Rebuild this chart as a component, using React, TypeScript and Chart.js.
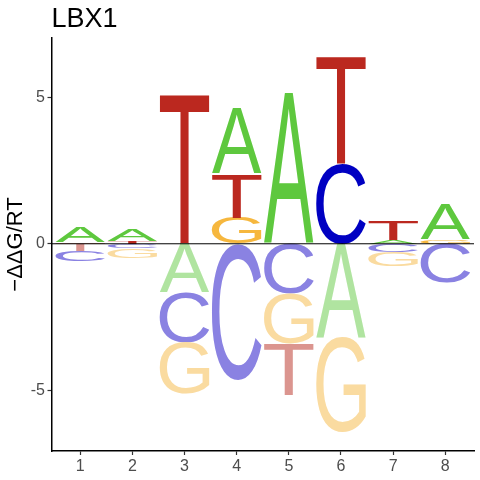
import { useEffect, useRef } from "react";
import Chart from "chart.js/auto";

// motif positions and the four bases
const positions = [1, 2, 3, 4, 5, 6, 7, 8];
const bases = ["A", "C", "G", "T"];

const aValues = [0.53, 0.4, -1.66, 2.24, 5.16, -3.2, 0.12, 1.17];
const cValues = [-0.34, -0.15, -1.7, -4.65, -1.7, 2.74, -0.27, -1.33];
const gValues = [0.05, -0.33, -1.75, 0.89, -1.72, -3.25, -0.51, 0.15];
const tValues = [-0.25, 0.08, 5.12, 1.51, -1.74, 3.66, 0.65, 0];

const yTicks = [-5, 0, 5];
const chartTitle = "LBX1";
const yTitle = "\u2212\u0394\u0394G/RT";

const series = [aValues, cValues, gValues, tValues];

const upColors: Record<string, string> = {
  A: "#5ec83e",
  C: "#0000c2",
  G: "#f6b73e",
  T: "#bb281f",
};
const downColors: Record<string, string> = {
  A: "#b0e4a0",
  C: "#8a82e2",
  G: "#fadba0",
  T: "#db958f",
};

const FONT = '"Liberation Sans", Arial, sans-serif';
const LETTER_WIDTH = 0.95;

function drawLetter(
  ctx: CanvasRenderingContext2D,
  ch: string,
  left: number,
  top: number,
  w: number,
  h: number,
  color: string
) {
  if (h < 0.2 || w <= 0) return;
  ctx.save();
  ctx.font = `400 200px ${FONT}`;
  ctx.textAlign = "left";
  ctx.textBaseline = "alphabetic";
  const m = ctx.measureText(ch);
  const gw = m.actualBoundingBoxLeft + m.actualBoundingBoxRight;
  const gh = m.actualBoundingBoxAscent + m.actualBoundingBoxDescent;
  ctx.translate(left, top);
  ctx.scale(w / gw, h / gh);
  ctx.fillStyle = color;
  ctx.fillText(ch, m.actualBoundingBoxLeft, m.actualBoundingBoxAscent);
  ctx.restore();
}

const logoPlugin = {
  id: "logoLetters",
  afterDatasetsDraw(chart: any) {
    const { ctx, chartArea, scales } = chart;
    const x = scales.x;
    const y = scales.y;
    ctx.save();
    ctx.beginPath();
    ctx.rect(chartArea.left, chartArea.top, chartArea.right - chartArea.left, chartArea.bottom - chartArea.top);
    ctx.clip();

    positions.forEach((pos, i) => {
      const vals = bases.map((b, k) => ({ b, v: series[k][i] }));
      const up = vals.filter((d) => d.v > 0).sort((p, q) => p.v - q.v);
      const down = vals.filter((d) => d.v < 0).sort((p, q) => q.v - p.v);
      const x0 = x.getPixelForValue(pos - LETTER_WIDTH / 2);
      const x1 = x.getPixelForValue(pos + LETTER_WIDTH / 2);

      let acc = 0;
      up.forEach((d) => {
        const bottom = y.getPixelForValue(acc);
        const top = y.getPixelForValue(acc + d.v);
        drawLetter(ctx, d.b, x0, top, x1 - x0, bottom - top, upColors[d.b]);
        acc += d.v;
      });
      acc = 0;
      down.forEach((d) => {
        const top = y.getPixelForValue(acc);
        const bottom = y.getPixelForValue(acc + d.v);
        drawLetter(ctx, d.b, x0, top, x1 - x0, bottom - top, downColors[d.b]);
        acc += d.v;
      });
    });

    // baseline at zero
    const y0 = y.getPixelForValue(0);
    ctx.strokeStyle = "#000";
    ctx.lineWidth = 1;
    ctx.beginPath();
    ctx.moveTo(chartArea.left, y0);
    ctx.lineTo(chartArea.right, y0);
    ctx.stroke();
    ctx.restore();
  },
  afterDraw(chart: any) {
    const { ctx, chartArea } = chart;
    ctx.save();
    ctx.font = `27px ${FONT}`;
    ctx.fillStyle = "#000";
    ctx.textAlign = "left";
    ctx.textBaseline = "alphabetic";
    ctx.fillText(chartTitle, chartArea.left, 26.7);
    ctx.restore();
  },
};

export default function App() {
  const canvasRef = useRef<HTMLCanvasElement>(null);

  useEffect(() => {
    document.body.style.margin = "0";
    if (!canvasRef.current) return;

    const chart = new Chart(canvasRef.current, {
      type: "scatter",
      data: {
        datasets: [
          {
            data: positions.map((p) => ({ x: p, y: 0 })),
            pointRadius: 0,
            showLine: false,
          },
        ],
      },
      options: {
        responsive: false,
        animation: false,
        events: [],
        layout: { padding: { top: 38, right: 6, bottom: 0, left: 0 } },
        plugins: {
          legend: { display: false },
          tooltip: { enabled: false },
          title: { display: false },
        },
        scales: {
          x: {
            type: "linear",
            min: 0.45,
            max: 8.55,
            afterBuildTicks: (s: any) => {
              s.ticks = positions.map((p) => ({ value: p }));
            },
            afterFit: (s: any) => {
              s.height = 29;
            },
            border: { color: "#000", width: 1.5 },
            grid: { drawOnChartArea: false, tickLength: 4, tickColor: "#333", tickWidth: 1.2 },
            ticks: {
              padding: 2,
              color: "#4d4d4d",
              font: { family: FONT, size: 16 },
              callback: (v: any) => String(v),
            },
          },
          y: {
            type: "linear",
            min: -7.07,
            max: 7.02,
            afterBuildTicks: (s: any) => {
              s.ticks = yTicks.map((v) => ({ value: v }));
            },
            afterFit: (s: any) => {
              s.width = 51.5;
            },
            border: { color: "#000", width: 1.5 },
            grid: { drawOnChartArea: false, tickLength: 4, tickColor: "#333", tickWidth: 1.2 },
            ticks: {
              padding: 2.5,
              color: "#4d4d4d",
              font: { family: FONT, size: 16 },
              callback: (v: any) => String(v),
            },
            title: {
              display: true,
              text: yTitle,
              color: "#000",
              font: { family: FONT, size: 22 },
              padding: { top: 3, bottom: 0 },
            },
          },
        },
      },
      plugins: [logoPlugin],
    });

    return () => chart.destroy();
  }, []);

  return (
    <div style={{ width: 480, height: 480 }}>
      <canvas ref={canvasRef} width={480} height={480} style={{ display: "block" }} />
    </div>
  );
}
